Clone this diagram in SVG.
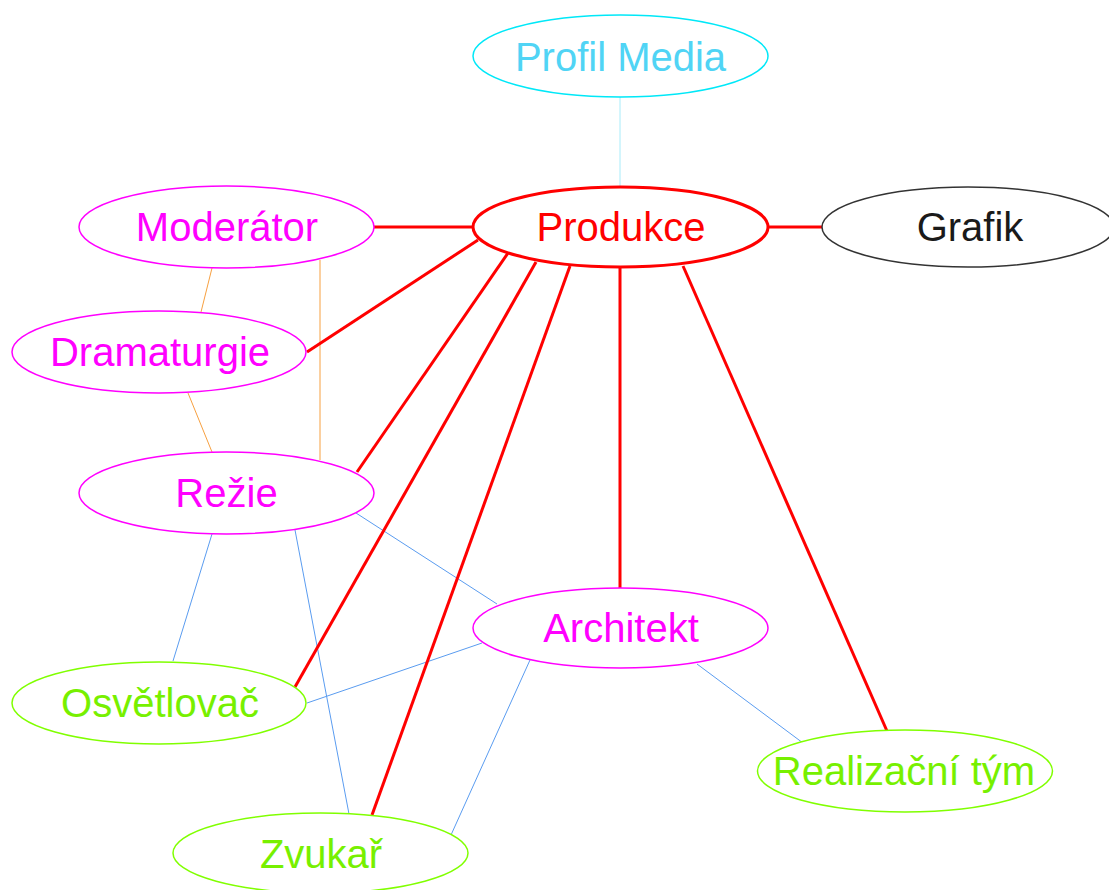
<svg xmlns="http://www.w3.org/2000/svg" width="1109" height="890" viewBox="0 0 1109 890">
<style>
.n ellipse{fill:#fff;stroke-width:1.5}
.n text{font-family:"Liberation Sans",Arial,sans-serif;font-size:40px;text-anchor:middle}
.mag ellipse{stroke:#ff00ff}.mag text{fill:#ff00ff}
.grn ellipse{stroke:#80ff00}.grn text{fill:#77f000}
.red{stroke:#ff0000;stroke-width:3;fill:none}
.org{stroke:#f7a040;stroke-width:1;fill:none}
.blu{stroke:#5a9cf0;stroke-width:1;fill:none}
.cyn{stroke:#a8ecfa;stroke-width:1;fill:none}
</style>
<rect width="1109" height="890" fill="#fff"/>
<g id="connectors">
<line class="cyn" x1="620" y1="97" x2="620" y2="187"/>
<line class="org" x1="212" y1="268" x2="201" y2="312"/>
<line class="org" x1="320" y1="260" x2="320" y2="460"/>
<line class="org" x1="188" y1="393" x2="212" y2="452"/>
<line class="blu" x1="212" y1="534" x2="173" y2="661"/>
<line class="blu" x1="295" y1="530" x2="349" y2="814"/>
<line class="blu" x1="356" y1="513" x2="497" y2="604"/>
<line class="blu" x1="307" y1="703" x2="482" y2="643"/>
<line class="blu" x1="530" y1="660" x2="451" y2="835"/>
<line class="blu" x1="697" y1="664" x2="803" y2="743"/>
<line class="red" x1="374" y1="227" x2="473" y2="227"/>
<line class="red" x1="768" y1="227" x2="822" y2="227"/>
<line class="red" x1="478" y1="240" x2="307" y2="352"/>
<line class="red" x1="508" y1="253" x2="357" y2="472"/>
<line class="red" x1="536" y1="262" x2="295" y2="687"/>
<line class="red" x1="570" y1="266" x2="372" y2="815"/>
<line class="red" x1="620" y1="268" x2="620" y2="588"/>
<line class="red" x1="683" y1="266" x2="887" y2="731"/>
</g>
<g id="profil-media" class="n"><ellipse cx="620.5" cy="56" rx="147.5" ry="41" style="stroke:#00e8f8"/><text x="620.5" y="71" style="fill:#50d4f5">Profil Media</text></g>
<g id="produkce" class="n"><ellipse cx="620.5" cy="227" rx="147.5" ry="40" style="stroke:#ff0000;stroke-width:3"/><text x="621" y="241" style="fill:#ff0000">Produkce</text></g>
<g id="grafik" class="n"><ellipse cx="968" cy="227" rx="146" ry="40" style="stroke:#333"/><text x="970" y="241" style="fill:#1a1a1a">Grafik</text></g>
<g id="moderator" class="n mag"><ellipse cx="226.5" cy="227" rx="147.5" ry="41"/><text x="227" y="241">Moderátor</text></g>
<g id="dramaturgie" class="n mag"><ellipse cx="159" cy="352" rx="147" ry="41"/><text x="160" y="366">Dramaturgie</text></g>
<g id="rezie" class="n mag"><ellipse cx="226.5" cy="493" rx="147.5" ry="41"/><text x="226.5" y="507">Režie</text></g>
<g id="architekt" class="n mag"><ellipse cx="620.5" cy="628" rx="147.5" ry="40"/><text x="621" y="642">Architekt</text></g>
<g id="osvetlovac" class="n grn"><ellipse cx="159" cy="703" rx="147" ry="41"/><text x="160" y="717">Osvětlovač</text></g>
<g id="realizacni-tym" class="n grn"><ellipse cx="905" cy="771" rx="147.5" ry="41"/><text x="904" y="785">Realizační tým</text></g>
<g id="zvukar" class="n grn"><ellipse cx="320.5" cy="853" rx="147.5" ry="40"/><text x="321" y="868">Zvukař</text></g>
</svg>
